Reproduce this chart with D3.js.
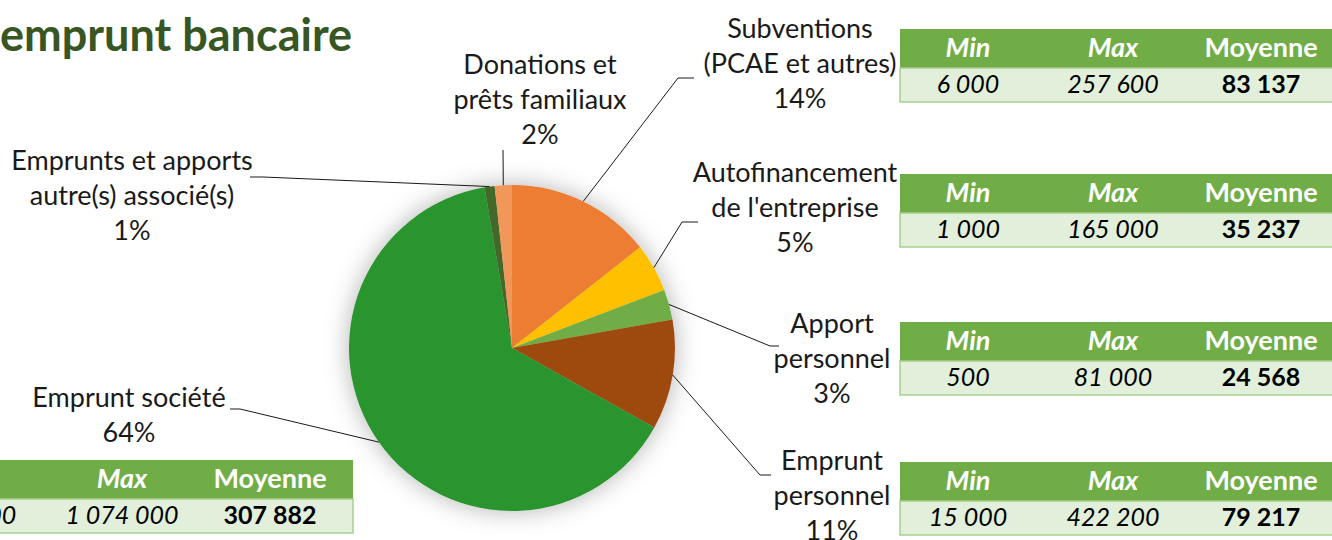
<!DOCTYPE html>
<html>
<head>
<meta charset="utf-8">
<script src="https://cdn.jsdelivr.net/npm/d3@7"></script>
<style>
  body { margin: 0; background: #fff; overflow: hidden; }
  text { font-family: Lato, "Open Sans", sans-serif; }
</style>
</head>
<body>
<script>
// pie slices, clockwise from 12 o'clock
const categories = ["subventions", "autofinancement", "apport", "empruntPerso", "empruntSociete", "autresAssocies", "donations"];
const labelLines = [
    ["Subventions", "(PCAE et autres)"],
    ["Autofinancement", "de l'entreprise"],
    ["Apport", "personnel"],
    ["Emprunt", "personnel"],
    ["Emprunt société"],
    ["Emprunts et apports", "autre(s) associé(s)"],
    ["Donations et", "prêts familiaux"]
];
const shares = [14.4, 4.8, 3.0, 10.9, 64.2, 1.0, 1.7];
const colors = ["#ED7D31", "#FFC000", "#70AD47", "#9E480E", "#2A952F", "#43682B", "#F1975A"];

// min / max / moyenne tables (first five categories)
const tableHeaders = ["Min", "Max", "Moyenne"];
const minValues = [6000, 1000, 500, 15000, 10000];
const maxValues = [257600, 165000, 81000, 422200, 1074000];
const meanValues = [83137, 35237, 24568, 79217, 307882];

const width = 1332;
const height = 540;
const cx = 512, cy = 348, radius = 163;

// label placement: centre x, first baseline, leader elbow and tail end
const labelLayout = [
    { x: 800, y: 38,  elbow: [678, 78],  tail: [694, 78] },
    { x: 795, y: 182, elbow: [682, 222], tail: [698, 222] },
    { x: 832, y: 333, elbow: [770, 346], tail: [779, 346] },
    { x: 832, y: 470, elbow: [760, 475], tail: [771, 475] },
    { x: 129, y: 407, elbow: [240, 409], tail: [230, 409] },
    { x: 132, y: 170, elbow: [263, 177], tail: [250, 177] },
    { x: 540, y: 74,  elbow: [503, 150], tail: [503, 150] }
];
const tableLayout = [
    { x: 900, y: 29 },
    { x: 900, y: 174 },
    { x: 900, y: 322 },
    { x: 900, y: 462 },
    { x: -91, y: 460 }
];
const colCenters = [68, 213, 361];
const tableW = 444, headH = 39, rowH = 34;
const lineH = 35;

const fr = d3.formatLocale({ decimal: ",", thousands: "\u00a0", grouping: [3], currency: ["", " €"] });
const fmt = fr.format(",d");
const pct = v => Math.round(v) + "%";

const svg = d3.select("body").append("svg")
    .attr("width", width)
    .attr("height", height);

// soft shadow round the pie
const defs = svg.append("defs");
const shadow = defs.append("filter").attr("id", "pieShadow")
    .attr("x", "-30%").attr("y", "-30%").attr("width", "160%").attr("height", "160%");
shadow.append("feGaussianBlur").attr("in", "SourceAlpha").attr("stdDeviation", 12).attr("result", "blur");
shadow.append("feFlood").attr("flood-color", "#000").attr("flood-opacity", 0.3);
shadow.append("feComposite").attr("in2", "blur").attr("operator", "in").attr("result", "sh");
const merge = shadow.append("feMerge");
merge.append("feMergeNode").attr("in", "sh");
merge.append("feMergeNode").attr("in", "SourceGraphic");

// title (cut off on the left, like the source)
svg.append("text")
    .attr("x", 0)
    .attr("y", 51)
    .attr("fill", "#375623")
    .attr("font-size", 45)
    .attr("font-weight", 700)
    .text("emprunt bancaire");

const pie = d3.pie().sort(null).value(d => d);
const arcs = pie(shares);
const arc = d3.arc().innerRadius(0).outerRadius(radius);
const edge = d3.arc().innerRadius(radius).outerRadius(radius);

const pieG = svg.append("g").attr("transform", `translate(${cx},${cy})`);
pieG.append("g")
    .attr("filter", "url(#pieShadow)")
    .selectAll("path")
    .data(arcs)
    .enter().append("path")
    .attr("d", arc)
    .attr("fill", (d, i) => colors[i]);

// leader lines
svg.append("g").selectAll("polyline")
    .data(arcs)
    .enter().append("polyline")
    .attr("fill", "none")
    .attr("stroke", "#1a1a1a")
    .attr("stroke-width", 1)
    .attr("points", (d, i) => {
        const p = edge.centroid(d);
        const l = labelLayout[i];
        return [[cx + p[0], cy + p[1]], l.elbow, l.tail].map(q => q.join(",")).join(" ");
    });

// data labels
const labels = svg.append("g").selectAll("text")
    .data(arcs)
    .enter().append("text")
    .attr("text-anchor", "middle")
    .attr("font-size", 27)
    .attr("fill", "#1a1a1a");
labels.each(function(d, i) {
    const lines = labelLines[i].concat([pct(d.data)]);
    d3.select(this).selectAll("tspan")
        .data(lines)
        .enter().append("tspan")
        .attr("x", labelLayout[i].x)
        .attr("y", (t, j) => labelLayout[i].y + j * lineH)
        .text(t => t);
});

// min / max / moyenne tables
tableLayout.forEach((t, i) => {
    const g = svg.append("g").attr("transform", `translate(${t.x},${t.y})`);
    g.append("rect")
        .attr("width", tableW).attr("height", headH)
        .attr("fill", "#70AD47");
    g.append("rect")
        .attr("y", headH).attr("width", tableW).attr("height", rowH)
        .attr("fill", "#E2EFDA")
        .attr("stroke", "#A9D08E").attr("stroke-width", 1.5);
    g.selectAll("text.head")
        .data(tableHeaders)
        .enter().append("text")
        .attr("class", "head")
        .attr("x", (h, j) => colCenters[j])
        .attr("y", 28)
        .attr("text-anchor", "middle")
        .attr("font-size", 27)
        .attr("font-weight", 700)
        .attr("font-style", (h, j) => j < 2 ? "italic" : "normal")
        .attr("fill", "#fff")
        .text(h => h);
    const row = [minValues[i], maxValues[i], meanValues[i]];
    g.selectAll("text.val")
        .data(row)
        .enter().append("text")
        .attr("class", "val")
        .attr("x", (v, j) => colCenters[j])
        .attr("y", headH + 25)
        .attr("text-anchor", "middle")
        .attr("font-size", 25)
        .attr("font-weight", (v, j) => j === 2 ? 700 : 400)
        .attr("font-style", (v, j) => j < 2 ? "italic" : "normal")
        .attr("fill", "#000")
        .text(v => fmt(v));
});
</script>
</body>
</html>
